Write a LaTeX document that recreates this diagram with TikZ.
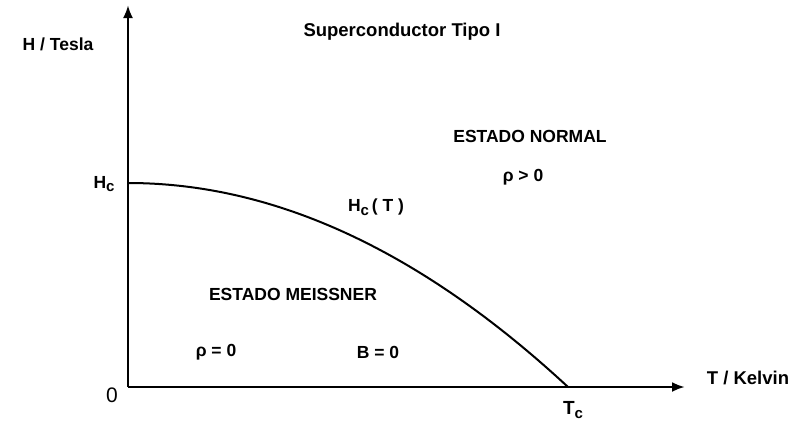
\documentclass[tikz,border=0pt]{standalone}
\usepackage{fontspec}
\setmainfont{Liberation Sans}
\usetikzlibrary{arrows.meta}
\newcommand{\subc}{\raisebox{-0.4ex}{\fontsize{15}{16}\selectfont c}}
\begin{document}
\begin{tikzpicture}[x=1pt,y=-1pt,
  lbl/.style={inner sep=0pt,font=\fontsize{17.5}{20}\selectfont\bfseries},
  axis/.style={line width=2.6pt,-{Latex[length=13pt,width=10pt]}},
  curve/.style={line width=2pt}]
\useasboundingbox (0,0) rectangle (795,423);
\coordinate (O) at (128,387);
\coordinate (ytip) at (128,5);
\coordinate (xtip) at (685,387);
\coordinate (Hc) at (128,183);
\coordinate (Tc) at (568,387);
\draw[axis] (O) -- (ytip);
\draw[axis] (O) -- (xtip);
\draw[curve] (Hc) .. controls (274.7,183) and (421.3,251) .. (Tc);
\node[lbl] (ylab) at (58,44) {H / Tesla};
\node[lbl,font=\fontsize{18.5}{20}\selectfont\bfseries] (title) at (402,32) {Superconductor Tipo I};
\node[lbl] (normal) at (530,136) {ESTADO NORMAL};
\node[lbl] (rhopos) at (523,177) {ρ > 0};
\node[lbl] (hclab) at (104,184) {H\subc};
\node[lbl] (hct) at (376,207) {H\subc\,( T )};
\node[lbl] (meissner) at (293,294) {ESTADO MEISSNER};
\node[lbl] (rhozero) at (216,352) {ρ = 0};
\node[lbl] (bzero) at (378,352) {B = 0};
\node[inner sep=0pt,font=\fontsize{21}{22}\selectfont] (zero) at (112,395) {0};
\node[lbl,font=\fontsize{19}{20}\selectfont\bfseries] (tclab) at (573,410) {T\subc};
\node[lbl,font=\fontsize{18.5}{20}\selectfont\bfseries] (xlab) at (748,378) {T / Kelvin};
\end{tikzpicture}
\end{document}
